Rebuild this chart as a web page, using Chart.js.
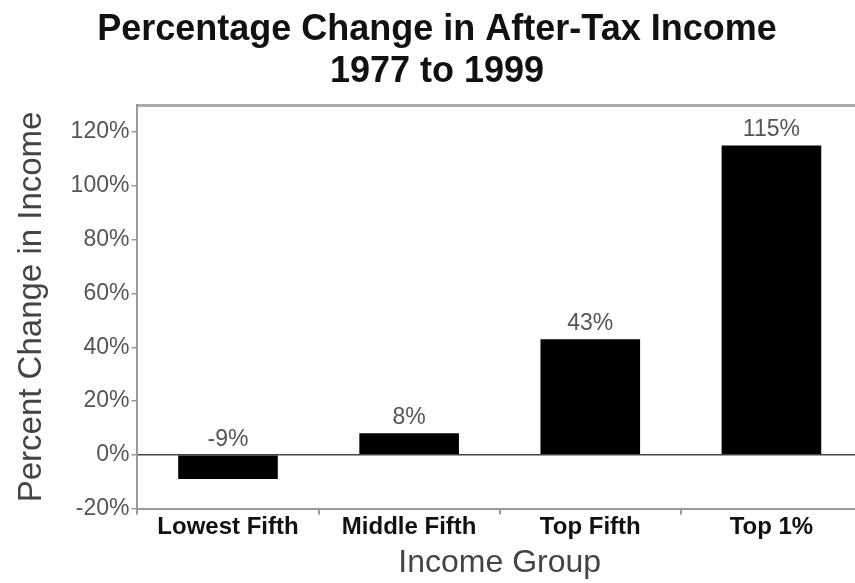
<!DOCTYPE html>
<html>
<head>
<meta charset="utf-8">
<script src="https://cdn.jsdelivr.net/npm/chart.js@4/dist/chart.umd.min.js"></script>
<style>
    html, body { margin: 0; padding: 0; background: #fff; overflow: hidden; }
    #wrap { width: 876px; height: 583px; }
</style>
</head>
<body>
<div id="wrap"><canvas id="chart"></canvas></div>
<script>
// Variation du revenu après impôt par groupe, 1977 -> 1999
const categories = ['Lowest Fifth', 'Middle Fifth', 'Top Fifth', 'Top 1%'];
const changes = [-9, 8, 43, 115];
const valueLabels = ['-9%', '8%', '43%', '115%'];
const yTicks = [-20, 0, 20, 40, 60, 80, 100, 120];

const FONT = "'Liberation Sans', Arial, sans-serif";

// étiquettes de valeur au-dessus de chaque barre
const barLabels = {
    id: 'barLabels',
    afterDatasetsDraw(chart) {
        const ctx = chart.ctx;
        const meta = chart.getDatasetMeta(0);
        ctx.save();
        ctx.font = `23px ${FONT}`;
        ctx.fillStyle = '#555';
        ctx.textAlign = 'center';
        ctx.textBaseline = 'bottom';
        meta.data.forEach((bar, i) => {
            const top = Math.min(bar.y, bar.base);
            ctx.fillText(valueLabels[i], bar.x, top - 4);
        });
        ctx.restore();
    },
};

new Chart(document.getElementById('chart'), {
    type: 'bar',
    data: {
        labels: categories,
        datasets: [{
            data: changes,
            backgroundColor: '#000',
            borderColor: '#000',
            borderWidth: 0,
            barPercentage: 0.55,
            categoryPercentage: 1,
        }],
    },
    options: {
        responsive: true,
        maintainAspectRatio: false,
        animation: false,
        layout: { padding: { left: 12, right: 14, top: 2, bottom: 0 } },
        plugins: {
            legend: { display: false },
            tooltip: { enabled: false },
            title: {
                display: true,
                text: ['Percentage Change in After-Tax Income', '1977 to 1999'],
                color: '#111',
                font: { family: FONT, size: 36, weight: 'bold', lineHeight: 1.17 },
                padding: { top: 7, bottom: 4 },
            },
        },
        scales: {
            x: {
                grid: {
                    offset: true,
                    drawOnChartArea: false,
                    tickLength: 6,
                    tickColor: '#999',
                    lineWidth: 2,
                },
                border: { color: '#999', width: 2 },
                ticks: {
                    color: '#111',
                    font: { family: FONT, size: 24, weight: 'bold', lineHeight: 1.0 },
                    padding: 1,
                },
                title: {
                    display: true,
                    text: 'Income Group',
                    color: '#444',
                    font: { family: FONT, size: 32 },
                    padding: { top: 3, bottom: 1 },
                },
            },
            top: {
                position: 'top',
                type: 'category',
                labels: categories,
                grid: { display: false },
                ticks: { display: false },
                border: { color: '#aaa', width: 3 },
            },
            y: {
                min: -20,
                max: 130,
                afterBuildTicks(axis) {
                    axis.ticks = yTicks.map((v) => ({ value: v }));
                },
                grid: {
                    color: (ctx) => (ctx.tick && ctx.tick.value === 0 ? '#444' : 'rgba(0,0,0,0)'),
                    lineWidth: 1.5,
                    tickColor: '#999',
                    tickLength: 6,
                },
                border: { color: '#999', width: 2 },
                ticks: {
                    color: '#555',
                    font: { family: FONT, size: 23 },
                    padding: 2,
                    callback: (v) => `${v}%`,
                },
                title: {
                    display: true,
                    text: 'Percent Change in Income',
                    color: '#444',
                    font: { family: FONT, size: 33 },
                    padding: { top: 0, bottom: 17 },
                },
            },
        },
    },
    plugins: [barLabels],
});
</script>
</body>
</html>
